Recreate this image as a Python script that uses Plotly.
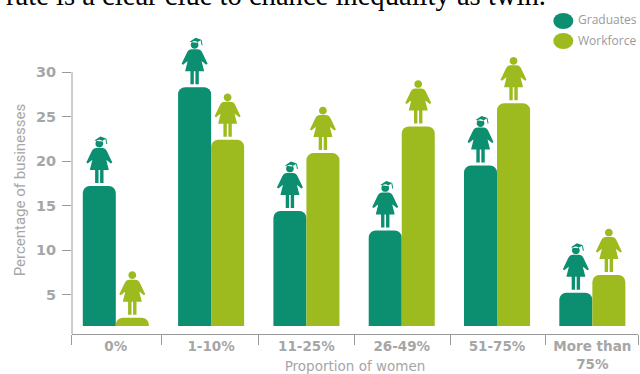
import plotly.graph_objects as go

# Share of businesses by proportion of women, graduates against workforce
categories = ["0%", "1-10%", "11-25%", "26-49%", "51-75%", "More than<br>75%"]
graduates = [17.2, 28.3, 14.4, 12.2, 19.5, 5.2]
workforce = [2.4, 22.4, 20.9, 23.9, 26.5, 7.2]
y_ticks = [5, 10, 15, 20, 25, 30]

TEAL = "#0b8f70"
LIME = "#9dbb1f"
GREY = "#a6a6a6"
AXIS = "#9a9a9a"
BAR_SHIFT = 0.173

# Page geometry of the drawing area
LEFT, RIGHT, TOP, BOTTOM, FLOOR = 71.7, 637.7, 28, 334, 326
PLOT_W, PLOT_H = RIGHT - LEFT, BOTTOM - TOP


def page_x(px):
    return (px - LEFT) / PLOT_W


def page_y(py):
    return (BOTTOM - py) / PLOT_H


positions = list(range(len(categories)))
dividers = [-0.46, 0.48, 1.5, 2.5, 3.51, 4.507, 5.479]

# Figure outline in pixels, x centred on the bar, y measured up from the bar top
BODY = ("M -4.2 3 L -0.8 3 L -0.8 16 L 0.8 16 L 0.8 3 L 4.2 3 L 4.2 16 L 9.5 16 "
        "L 7 26 L 8.5 25 L 11.5 22.5 L 13 23.5 L 7.5 35 Q 6 38 3 38 L -3 38 Q -6 38 -7.5 35 "
        "L -13 23.5 L -11.5 22.5 L -8.5 25 L -7 26 L -9.5 16 L -4.2 16 Z ")
HEAD = "M -3.9 42.3 C -3.9 47.6 3.9 47.6 3.9 42.3 C 3.9 37.4 -3.9 37.4 -3.9 42.3 Z "
CAP = "M -5 45.5 L 1 49.5 L 7 47.5 L 2 44.5 Z M 6 47.5 L 7 47.5 L 8 42 L 7 42 Z "


def figure_shape(x, top, color, capped):
    return dict(
        type="path",
        xref="x", yref="y",
        xsizemode="pixel", ysizemode="pixel",
        xanchor=x, yanchor=top,
        path=BODY + HEAD + (CAP if capped else ""),
        fillcolor=color,
        line=dict(width=0),
        layer="above",
    )


shapes = []
for i, (g, w) in enumerate(zip(graduates, workforce)):
    shapes.append(figure_shape(i - BAR_SHIFT, g, TEAL, True))
    shapes.append(figure_shape(i + BAR_SHIFT, w, LIME, False))

# Vertical axis line, stopping level with the top tick
shapes.append(dict(type="line", xref="paper", yref="paper", x0=0, x1=0,
                   y0=0, y1=page_y(72.2), line=dict(color=AXIS, width=1)))

# Legend swatches
for cy, color in ((21, TEAL), (41, LIME)):
    shapes.append(dict(
        type="circle", xref="paper", yref="paper",
        x0=page_x(553), x1=page_x(573),
        y0=page_y(cy + 8), y1=page_y(cy - 8),
        fillcolor=color, line=dict(width=0),
    ))

fig = go.Figure()
fig.add_bar(x=positions, y=graduates, name="Graduates",
            marker=dict(color=TEAL, line=dict(width=0)))
fig.add_bar(x=positions, y=workforce, name="Workforce",
            marker=dict(color=LIME, line=dict(width=0)))

annotations = [
    dict(text="rate is a clear clue to chance inequality as twin.",
         xref="paper", yref="paper", x=page_x(4), y=page_y(6),
         xanchor="left", yanchor="bottom", yshift=-7, showarrow=False,
         font=dict(family="Liberation Serif", size=28.6, color="#000000")),
    dict(text="Graduates", xref="paper", yref="paper", x=page_x(576),
         y=page_y(19), xanchor="left", yanchor="middle", showarrow=False,
         font=dict(family="Open Sans", size=12, color="#9a9a9a")),
    dict(text="Workforce", xref="paper", yref="paper", x=page_x(576),
         y=page_y(41), xanchor="left", yanchor="middle", showarrow=False,
         font=dict(family="Open Sans", size=12, color="#9a9a9a")),
    dict(text="Percentage of businesses", textangle=-90,
         xref="paper", yref="paper", x=page_x(20), y=page_y(190),
         xanchor="center", yanchor="middle", showarrow=False,
         font=dict(family="Roboto", size=15, color=GREY)),
]

fig.update_layout(
    width=640, height=374,
    margin=dict(l=LEFT, r=640 - RIGHT, t=TOP, b=374 - BOTTOM, pad=0),
    paper_bgcolor="white", plot_bgcolor="white",
    barmode="group", bargap=0.307, bargroupgap=0,
    barcornerradius=7,
    showlegend=False,
    shapes=shapes,
    annotations=annotations,
    xaxis=dict(
        range=[-0.4596, 5.479],
        anchor="free", position=0,
        tickvals=positions, ticktext=categories,
        ticks="", showgrid=False, zeroline=False,
        showline=True, linecolor=AXIS, linewidth=1,
        tickfont=dict(family="DejaVu Sans", size=13.5, color=GREY, weight=700),
        minor=dict(tickvals=dividers, ticks="outside", ticklen=10,
                   tickcolor=AXIS, tickwidth=1, showgrid=False),
        title=dict(text="Proportion of women", standoff=6,
                   font=dict(family="DejaVu Sans", size=13.5, color=GREY)),
        automargin=False,
    ),
    yaxis=dict(
        domain=[page_y(FLOOR), 1],
        range=[1.46, 34.97],
        tickvals=y_ticks,
        ticks="outside", ticklen=9, tickcolor=AXIS, tickwidth=1,
        ticklabelstandoff=3,
        showgrid=False, zeroline=False, showline=False,
        tickfont=dict(family="DejaVu Sans", size=14.5, color=GREY, weight=700),
        automargin=False,
    ),
)

fig.write_html("out.html")
